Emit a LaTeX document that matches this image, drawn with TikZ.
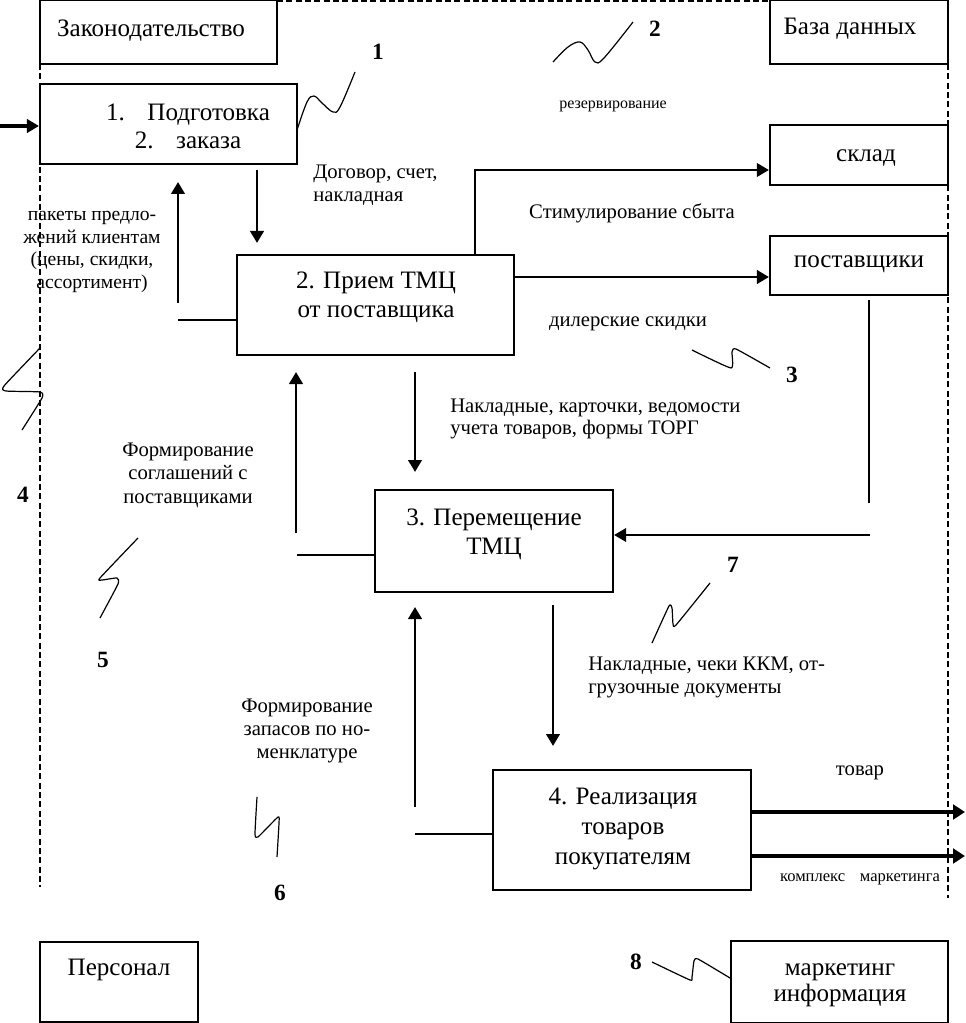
\documentclass[tikz,border=0pt]{standalone}
\usepackage{fontspec}
\setmainfont{Liberation Serif}
\usetikzlibrary{arrows.meta}
\tikzset{
  box/.style={draw, line width=1.6pt, fill=white, inner sep=0pt},
  btxt/.style={font=\fontsize{18.8}{22}\selectfont, inner sep=0pt, align=center, yshift=-2.5pt},
  lbl/.style={font=\fontsize{15.5}{17}\selectfont, inner sep=0pt, yshift=-1.5pt},
  num/.style={font=\fontsize{17.5}{20}\selectfont\bfseries, inner sep=0pt},
  arr/.style={line width=2.2pt, -{Triangle[length=9pt,width=10pt]}},
  barr/.style={line width=3.6pt, -{Triangle[length=9pt,width=11pt]}},
  ln/.style={line width=2.2pt},
  squig/.style={line width=0.9pt, line join=round},
  dline/.style={line width=1.2pt, dash pattern=on 4.5pt off 2.5pt}
}
\begin{document}
\begin{tikzpicture}[x=0.75pt,y=-0.75pt]
\useasboundingbox (0,0) rectangle (965,1023);
% dashed frame
\draw[dline] (277,1) -- (770,1);
\draw[dline] (40,64) -- (40,887);
\draw[dline] (948,64) -- (948,898);
% boxes
\node[box, minimum width=177.75pt, minimum height=48pt] (law) at (158.5,32) {};
\node[box, minimum width=133.5pt, minimum height=48pt] (db) at (859,32) {};
\node[box, minimum width=192.75pt, minimum height=60pt] (b1) at (168.5,124) {};
\node[box, minimum width=133.5pt, minimum height=45pt] (sklad) at (859,155) {};
\node[box, minimum width=133.5pt, minimum height=44.25pt] (supp) at (859,265.5) {};
\node[box, minimum width=207.75pt, minimum height=75pt] (b2) at (375.5,305) {};
\node[box, minimum width=178.5pt, minimum height=76.5pt] (b3) at (494,541) {};
\node[box, minimum width=193.5pt, minimum height=90pt] (b4) at (622,830) {};
\node[box, minimum width=118.5pt, minimum height=60pt] (pers) at (119,982) {};
\node[box, minimum width=162.75pt, minimum height=61.5pt] (mkt) at (839.5,982) {};
% box texts
\node[btxt] (tlaw) at (151,27) {Законодательство};
\node[btxt] (tdb) at (850,25) {База данных};
\node[btxt, font=\fontsize{18.8}{21}\selectfont] (tb1) at (188,123) {1.\hspace{0.9em}Подготовка\\2.\hspace{0.9em}заказа};
\node[btxt] (tsklad) at (866,155) {склад};
\node[btxt] (tsupp) at (859,261) {поставщики};
\node[btxt, font=\fontsize{18.8}{21.75}\selectfont] (tb2) at (376,293.5) {2. Прием ТМЦ\\от поставщика};
\node[btxt, font=\fontsize{18.8}{21.75}\selectfont] (tb3) at (494,531.5) {3. Перемещение\\ТМЦ};
\node[btxt, font=\fontsize{18.8}{22.5}\selectfont] (tb4) at (623,826) {4. Реализация\\товаров\\покупателям};
\node[btxt] (tpers) at (119,967) {Персонал};
\node[btxt, font=\fontsize{18.8}{19.5}\selectfont] (tmkt) at (840,982) {маркетинг\\информация};
% labels
\node[lbl, align=left, anchor=west] (l1) at (313,183) {Договор, счет,\\накладная};
\node[lbl, font=\fontsize{12}{14}\selectfont] (l2) at (613,104) {резервирование};
\node[lbl] (l3) at (632,211) {Стимулирование сбыта};
\node[lbl, align=center, font=\fontsize{14.7}{17}\selectfont] (l4) at (92,250) {пакеты предло-\\жений клиентам\\(цены, скидки,\\ассортимент)};
\node[lbl] (l5) at (628,322) {дилерские скидки};
\node[lbl, align=left, anchor=west] (l6) at (450,417) {Накладные, карточки, ведомости\\учета товаров, формы ТОРГ};
\node[lbl, align=center, font=\fontsize{15.5}{17.6}\selectfont] (l7) at (188,473) {Формирование\\соглашений с\\поставщиками};
\node[lbl, align=left, anchor=west] (l8) at (588,675.5) {Накладные, чеки ККМ, от-\\грузочные документы};
\node[lbl, align=center, font=\fontsize{15.5}{17.4}\selectfont] (l9) at (307,729) {Формирование\\запасов по но-\\менклатуре};
\node[lbl] (l10) at (860,771) {товар};
\node[lbl, font=\fontsize{12.4}{14}\selectfont] (l11) at (860,877) {комплекс\hspace{0.9em}маркетинга};
% numbers
\node[num] (n1) at (378,52) {1};
\node[num] (n2) at (655,29) {2};
\node[num] (n3) at (792,375) {3};
\node[num] (n4) at (23,495) {4};
\node[num] (n5) at (103,660) {5};
\node[num] (n6) at (280,893) {6};
\node[num] (n7) at (733,565) {7};
\node[num] (n8) at (636,962) {8};
% squiggles
\draw[squig] plot[smooth, tension=0.6] coordinates {(297,130) (307,102) (314,96) (322,103) (333,112) (340,107) (355,72)};
\draw[squig] plot[smooth, tension=0.6] coordinates {(553,62) (568,47) (580,42) (588,50) (595,62) (604,58) (633,22)};
\draw[squig] plot[smooth, tension=0.3] coordinates {(692,350) (731,368) (732,352) (736,349) (770,368)};
\draw[squig] plot[smooth, tension=0.3] coordinates {(40,348) (4,386) (6,391) (40,392) (42,398) (22,430)};
\draw[squig] plot[smooth, tension=0.3] coordinates {(138,538) (100,578) (102,580) (117,578) (118,584) (100,618)};
\draw[squig] plot[smooth, tension=0.3] coordinates {(257,797) (255,834) (258,837) (278,817) (279,823) (277,857)};
\draw[squig] plot[smooth, tension=0.3] coordinates {(652,643) (669,606) (672,608) (673,624) (676,625) (710,583)};
\draw[squig] plot[smooth, tension=0.3] coordinates {(652,962) (690,980) (692,977) (694,961) (698,959) (730,978)};
% connectors
\draw[line width=3pt, -{Triangle[length=9pt,width=10pt]}] (0,126) -- (b1.west |- 0,126);
\draw[arr] (257,170) -- (257,243);
\draw[arr] (178,303) -- (178,182);
\draw[ln] (178,320) -- (b2.west |- 0,320);
\draw[line width=1.8pt, -{Triangle[length=9pt,width=10pt]}] (b2.north -| 475,0) -- (475,170) -- (sklad.west |- 0,170);
\draw[arr] (b2.east |- 0,277) -- (supp.west |- 0,277);
\draw[arr] (415,372) -- (415,472);
\draw[arr] (296,533) -- (296,372);
\draw[ln] (297,555) -- (b3.west |- 0,555);
\draw[line width=1.4pt] (869,300) -- (869,503);
\draw[line width=1.8pt, -{Triangle[length=9pt,width=10pt]}] (870,535) -- (b3.east |- 0,535);
\draw[arr] (553,605) -- (553,746);
\draw[arr] (415,807) -- (415,607);
\draw[ln] (415,834) -- (b4.west |- 0,834);
\draw[barr] (b4.east |- 0,812) -- (965,812);
\draw[barr] (b4.east |- 0,856) -- (965,856);
\end{tikzpicture}
\end{document}
